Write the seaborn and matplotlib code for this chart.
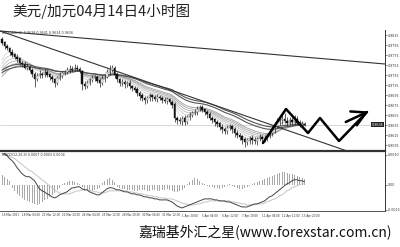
import numpy as np
import pandas as pd
import matplotlib
matplotlib.use("Agg")
import matplotlib.pyplot as plt
import seaborn as sns

sns.set_style("white")
plt.rcParams["font.family"] = ["DejaVu Sans"]

# ---------------- data ----------------
first_open = 0.9806
closes = [
    0.9800, 0.9793, 0.9789, 0.9782, 0.9776, 0.9772, 0.9768, 0.9760, 0.9757, 0.9750,
    0.9752, 0.9745, 0.9738, 0.9728, 0.9733, 0.9737, 0.9735, 0.9741, 0.9736, 0.9731,
    0.9727, 0.9719, 0.9728, 0.9734, 0.9739, 0.9741, 0.9745, 0.9748, 0.9746, 0.9750,
    0.9747, 0.9743, 0.9718, 0.9713, 0.9720, 0.9726, 0.9729, 0.9731, 0.9724, 0.9719,
    0.9727, 0.9732, 0.9740, 0.9746, 0.9750, 0.9736, 0.9727, 0.9720, 0.9722, 0.9717,
    0.9719, 0.9713, 0.9710, 0.9706, 0.9700, 0.9694, 0.9690, 0.9685, 0.9689, 0.9694,
    0.9691, 0.9688, 0.9692, 0.9690, 0.9686, 0.9683, 0.9687, 0.9682, 0.9676, 0.9650,
    0.9646, 0.9643, 0.9648, 0.9642, 0.9651, 0.9656, 0.9660, 0.9662, 0.9667, 0.9671,
    0.9666, 0.9662, 0.9657, 0.9650, 0.9646, 0.9641, 0.9638, 0.9631, 0.9628, 0.9624,
    0.9630, 0.9633, 0.9627, 0.9620, 0.9616, 0.9612, 0.9606, 0.9601, 0.9604, 0.9609,
    0.9606, 0.9603, 0.9608, 0.9611, 0.9607, 0.9609, 0.9614, 0.9619, 0.9626, 0.9634,
    0.9641, 0.9645, 0.9648, 0.9643, 0.9639, 0.9644, 0.9641, 0.9647, 0.9640, 0.9636,
    0.9638, 0.9636,
]
# wick lengths in pips above / below the candle body
up_wick = [
    6, 4, 5, 3, 6, 4, 5, 3, 4, 6,
    7, 4, 5, 3, 6, 8, 4, 6, 5, 4,
    5, 3, 6, 7, 5, 4, 6, 8, 5, 7,
    6, 4, 3, 5, 6, 4, 7, 5, 4, 6,
    8, 5, 7, 9, 6, 4, 5, 3, 6, 4,
    5, 6, 3, 4, 5, 3, 6, 4, 5, 6,
    4, 5, 6, 3, 4, 6, 5, 3, 4, 5,
    4, 6, 5, 7, 5, 6, 4, 5, 6, 4,
    5, 3, 4, 5, 4, 3, 5, 4, 6, 4,
    5, 4, 3, 4, 5, 3, 4, 6, 5, 4,
    6, 5, 4, 7, 5, 6, 4, 5, 7, 8,
    9, 10, 8, 12, 9, 8, 10, 9, 7, 6,
    5, 4,
]
dn_wick = [
    4, 5, 3, 6, 4, 5, 6, 4, 5, 3,
    5, 4, 6, 16, 5, 4, 6, 3, 5, 6,
    5, 8, 4, 3, 5, 4, 3, 5, 4, 3,
    4, 5, 13, 6, 5, 4, 5, 6, 4, 7,
    4, 5, 3, 4, 5, 6, 5, 7, 6, 8,
    5, 6, 7, 5, 6, 8, 6, 7, 5, 6,
    7, 5, 6, 4, 7, 5, 6, 5, 6, 8,
    9, 6, 8, 7, 5, 6, 4, 5, 6, 4,
    5, 6, 7, 5, 6, 8, 7, 6, 8, 7,
    6, 5, 7, 8, 6, 7, 8, 9, 6, 7,
    8, 6, 7, 5, 6, 5, 6, 4, 5, 6,
    5, 6, 7, 5, 6, 4, 6, 5, 4, 5,
    4, 3,
]
# MACD panel values in pips
macd_main = [
    32, 31, 29, 26, 24, 21, 17, 14, 11, 9,
    8, 8, 6, 4, 0, -4, -6, -7, -9, -10,
    -12, -13, -12, -10, -9, -8, -7, -5, -3, -3,
    -2, -2, -4, -5, -5, -7, -8, -9, -10, -10,
    -8, -6, -4, -3, -3, -4, -5, -5, -6, -7,
    -7, -8, -9, -9, -10, -10, -11, -12, -12, -13,
    -13, -14, -14, -15, -15, -15, -15, -16, -17, -19,
    -21, -22, -23, -22, -21, -20, -19, -18, -17, -16,
    -15, -14, -14, -14, -14, -15, -15, -16, -16, -16,
    -17, -17, -18, -19, -20, -21, -22, -22, -22, -21,
    -20, -19, -19, -18, -17, -16, -14, -12, -11, -9,
    -7, -5, -3, -1, 1, 2, 4, 5, 5, 4,
    4, 3,
]
macd_signal = [
    30, 30, 29, 28, 27, 26, 24, 22, 20, 18,
    16, 14, 13, 11, 9, 7, 5, 3, 1, -1,
    -3, -5, -7, -8, -9, -9, -9, -9, -8, -7,
    -6, -6, -5, -5, -5, -6, -6, -7, -7, -8,
    -8, -8, -7, -6, -6, -6, -6, -6, -6, -6,
    -6, -7, -7, -8, -8, -9, -9, -10, -10, -11,
    -11, -12, -12, -13, -13, -13, -14, -14, -14, -15,
    -16, -17, -18, -19, -19, -20, -20, -20, -19, -19,
    -18, -17, -17, -16, -16, -16, -16, -16, -16, -16,
    -16, -16, -17, -17, -18, -18, -19, -19, -20, -20,
    -20, -20, -19, -19, -19, -18, -17, -16, -15, -14,
    -13, -11, -10, -8, -6, -5, -3, -2, -1, 0,
    1, 1,
]
macd_hist = [
    10, 8, 6, 4, -3, -6, -9, -11, -13, -15,
    -16, -17, -18, -19, -20, -19, -17, -15, -14, -12,
    -10, -8, -5, -3, 1, 2, 3, 4, 4, 3,
    2, 1, -2, -4, -5, -6, -6, -5, -4, -3,
    2, 4, 6, 7, 5, 3, -2, -3, -4, -4,
    -5, -5, -5, -6, -6, -5, -5, -5, -6, -6,
    -5, -5, -6, -6, -5, -5, -4, -5, -6, -7,
    -7, -6, -5, -3, 1, 3, 5, 7, 6, 4,
    2, 1, -1, -2, -2, -3, -3, -4, -3, -2,
    -1, 1, -1, -2, -3, -4, -4, -3, -2, -1,
    1, 2, 3, 4, 5, 6, 7, 8, 9, 10,
    11, 12, 13, 13, 12, 11, 11, 10, 9, 8,
    7, 6,
]
date_labels = ["16 Mar 2011", "18 Mar 04:00", "21 Mar 12:00", "22 Mar 20:00",
               "24 Mar 04:00", "25 Mar 12:00", "28 Mar 20:00", "30 Mar 04:00",
               "31 Mar 12:00", "1 Apr 20:00", "5 Apr 04:00", "6 Apr 12:00",
               "7 Apr 20:00", "11 Apr 04:00", "12 Apr 12:00", "13 Apr 20:00"]
date_bars = [0, 8, 16, 24, 32, 40, 48, 56, 64, 72, 80, 88, 96, 104, 112, 120]
price_ticks = [0.9815, 0.9795, 0.9775, 0.9755, 0.9735, 0.9715, 0.9695, 0.9675,
               0.9655, 0.9635, 0.9615, 0.9595]
last_price = 0.9636
macd_ticks = [30, 0, -25]
macd_tick_labels = ["0.0030", "0.00", "-0.0025"]

# moving-average ribbon (periods + starting values read at the left edge)
ribbon_periods = [5, 8, 11, 14, 17, 20]
ribbon_seeds = [0.9765, 0.9758, 0.9750, 0.9744, 0.9738, 0.9732]
tunnel_periods = [30, 36]
tunnel_seeds = [0.9745, 0.9740]

# drawn trend lines (bar index, price)
trend_shallow = ([-0.8, 153.2], [0.9823, 0.9757])
trend_steep = ([-0.8, 139.2], [0.9823, 0.9581])
zigzag_x = [104.4, 113.6, 122.4, 127.2, 134.8, 146.0]
zigzag_y = [0.9599, 0.9667, 0.9619, 0.9649, 0.9603, 0.9661]

title = "美元/加元04月14日4小时图"
footer = "嘉瑞基外汇之星(www.forexstar.com.cn)"

# ---------------- derived frame ----------------
n = len(closes)
opens = [first_open] + closes[:-1]
df = pd.DataFrame({"bar": np.arange(n), "open": opens, "close": closes})
df["top"] = df[["open", "close"]].max(axis=1)
df["bot"] = df[["open", "close"]].min(axis=1)
df["high"] = df["top"] + np.array(up_wick) / 10000
df["low"] = df["bot"] - np.array(dn_wick) / 10000


def ema(values, period, seed):
    a = 2.0 / (period + 1)
    out = [seed]
    for v in values[1:]:
        out.append(out[-1] + a * (v - out[-1]))
    return out


W, H = 400, 247
fig = plt.figure(figsize=(W / 100, H / 100), dpi=100)
fig.patch.set_facecolor("white")


def fx(px):
    return px / W


def fy(py):
    return 1 - py / H


ax = fig.add_axes([0, fy(151), fx(385), fy(30) - fy(151)])
ax2 = fig.add_axes([0, fy(211), fx(385), fy(152.5) - fy(211)])

XL = (-0.8, 153.2)
ax.set_xlim(*XL)
ax.set_ylim(0.9583, 0.9825)
ax2.set_xlim(*XL)
ax2.set_ylim(-26, 32)

# bid line
ax.axhline(last_price, color="#c8c8c8", lw=0.5, zorder=0)

# ribbon
ribbon_cols = ["#d6d6d6", "#cbcbcb", "#c0c0c0", "#b4b4b4", "#a8a8a8", "#9c9c9c"]
for p, s, c in zip(ribbon_periods, ribbon_seeds, ribbon_cols):
    sns.lineplot(x=df["bar"], y=ema(closes, p, s), ax=ax, color=c, lw=0.6, zorder=1)
for p, s in zip(tunnel_periods, tunnel_seeds):
    sns.lineplot(x=df["bar"], y=ema(closes, p, s), ax=ax, color="#555555", lw=0.8, zorder=1)

# trend lines
sns.lineplot(x=trend_shallow[0], y=trend_shallow[1], ax=ax, color="#333333", lw=0.8)
sns.lineplot(x=trend_steep[0], y=trend_steep[1], ax=ax, color="#333333", lw=0.8)

# candles
ax.vlines(df["bar"], df["low"], df["high"], color="#222222", lw=0.5, zorder=2)
bear = df["close"] < df["open"]
ax.bar(df["bar"][bear], (df["top"] - df["bot"])[bear].clip(lower=0.00008),
       bottom=df["bot"][bear], width=0.6, color="#111111", edgecolor="#111111",
       lw=0.3, zorder=3)
ax.bar(df["bar"][~bear], (df["top"] - df["bot"])[~bear].clip(lower=0.00008),
       bottom=df["bot"][~bear], width=0.6, color="white", edgecolor="#555555",
       lw=0.3, zorder=3)

# zigzag forecast
sns.lineplot(x=zigzag_x, y=zigzag_y, ax=ax, color="black", lw=1.8, sort=False,
             zorder=5)
ax.annotate("", xy=(zigzag_x[-1] + 0.6, zigzag_y[-1] + 0.00012),
            xytext=(zigzag_x[-1] - 8.5, zigzag_y[-1] - 0.0020),
            arrowprops=dict(arrowstyle="->,head_length=1.0,head_width=0.55",
                            lw=1.8, color="black", shrinkA=0, shrinkB=0),
            zorder=6)

# axes cosmetics main
for sp in ["left", "top"]:
    ax.spines[sp].set_visible(False)
ax.spines["right"].set_color("#333333")
ax.spines["right"].set_lw(0.7)
ax.spines["bottom"].set_color("#333333")
ax.spines["bottom"].set_lw(1.6)
ax.set_xticks([])
ax.yaxis.tick_right()
ax.set_yticks(price_ticks)
ax.set_yticklabels([f"{v:.4f}" for v in price_ticks])
ax.tick_params(axis="y", labelsize=2.3, length=1.2, width=0.4, pad=1,
               colors="#333333")
ax.set_xlabel("")
ax.set_ylabel("")
ax.text(fx(386), last_price, f"{last_price:.4f}", transform=ax.get_yaxis_transform(),
        fontsize=2.4, color="white", va="center", ha="left",
        bbox=dict(boxstyle="square,pad=0.25", fc="#222222", ec="none"), clip_on=False)
ax.text(0.005, 0.995, "USDCAD,H4  0.9638 0.9641 0.9634 0.9636", transform=ax.transAxes,
        fontsize=2.3, color="#333333", va="top", ha="left")

# MACD panel
ax2.bar(df["bar"], macd_hist, width=0.4, color="#a8a8a8", lw=0, zorder=1)
sns.lineplot(x=df["bar"], y=macd_signal, ax=ax2, color="#c4c4c4", lw=0.7, zorder=2)
sns.lineplot(x=df["bar"], y=macd_main, ax=ax2, color="#444444", lw=0.7, zorder=3)
for sp in ["left", "top"]:
    ax2.spines[sp].set_visible(False)
ax2.spines["right"].set_color("#333333")
ax2.spines["right"].set_lw(0.7)
ax2.spines["bottom"].set_color("#555555")
ax2.spines["bottom"].set_lw(0.7)
ax2.yaxis.tick_right()
ax2.set_yticks(macd_ticks)
ax2.set_yticklabels(macd_tick_labels)
ax2.tick_params(axis="y", labelsize=2.3, length=1.2, width=0.4, pad=1,
                colors="#333333")
ax2.set_xticks(date_bars)
ax2.set_xticklabels(date_labels, ha="left")
ax2.tick_params(axis="x", labelsize=2.0, length=1.0, width=0.4, pad=0.8,
                colors="#333333")
ax2.set_xlabel("")
ax2.set_ylabel("")
ax2.text(0.005, 0.985, "MACD(12,26,9) 0.0007 0.0003 0.0004", transform=ax2.transAxes,
         fontsize=2.3, color="#333333", va="top", ha="left")

# texts
cjk = ["Noto Sans CJK SC", "DejaVu Sans"]
fig.text(fx(12), fy(11), title, fontsize=10.5, family=cjk, va="center", ha="left",
         color="#222222")
fig.text(fx(392), fy(232), footer, fontsize=10, family=cjk, va="center",
         ha="right", color="#111111")

fig.savefig("out.png", dpi=100, facecolor="white")
